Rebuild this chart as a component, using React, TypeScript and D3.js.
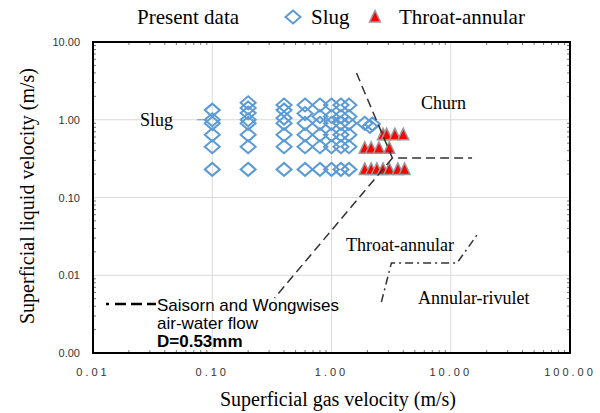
import React from "react";
import * as d3 from "d3";

// present data - slug (open diamonds), one column per gas velocity
const slugGas = [0.1, 0.2, 0.4, 0.6, 0.8, 1.0, 1.2, 1.4];
const slugLiq = [
  [1.33, 1.0, 0.9, 0.64, 0.45, 0.23],
  [1.65, 1.42, 1.22, 1.0, 0.9, 0.64, 0.45, 0.23],
  [1.55, 1.33, 1.05, 0.9, 0.64, 0.45, 0.23],
  [1.55, 1.2, 0.9, 0.64, 0.45, 0.23],
  [1.55, 1.1, 0.9, 0.64, 0.45, 0.23],
  [1.55, 1.1, 0.9, 0.64, 0.45, 0.23],
  [1.55, 1.1, 0.9, 0.64, 0.45, 0.23],
  [1.55, 1.1, 0.9, 0.64, 0.45, 0.23],
];
const slugExtraGas = [1.9, 2.1, 2.2];
const slugExtraLiq = [0.9, 0.82, 0.88];

// present data - throat-annular (red triangles)
const taGas = [2.7, 2.9, 3.4, 4.0, 1.9, 2.15, 2.5, 3.05, 1.9, 2.15, 2.4, 2.7, 3.05, 3.6, 4.1];
const taLiq = [0.64, 0.64, 0.64, 0.64, 0.43, 0.43, 0.43, 0.43, 0.23, 0.23, 0.23, 0.23, 0.23, 0.23, 0.23];

// Saisorn and Wongwises boundaries
const churnLineGas = [1.62, 3.24, 15.1];
const churnLineLiq = [3.99, 0.322, 0.322];
const slugLineGas = [3.24, 0.333];
const slugLineLiq = [0.322, 0.0051];
const rivuletLineGas = [2.62, 3.18, 11.3, 17.3];
const rivuletLineLiq = [0.00453, 0.0144, 0.0144, 0.036];

const xTicks = [0.01, 0.1, 1, 10, 100];
const yTicks = [0.001, 0.01, 0.1, 1, 10];

const W = 600;
const H = 413;
const L = 93, R = 570, T = 42, B = 353;
const serif = "'Liberation Serif', 'Times New Roman', serif";
const sans = "'Liberation Sans', Arial, sans-serif";
const blue = "#5b9bd5";

export default function App() {
  const x = d3.scaleLog().domain([0.01, 100]).range([L, R]);
  const y = d3.scaleLog().domain([0.001, 10]).range([B, T]);
  const line = d3
    .line<[number, number]>()
    .x((d) => x(d[0]))
    .y((d) => y(d[1]));

  const minorX: number[] = [];
  for (let e = -2; e < 2; e++) for (let k = 2; k < 10; k++) minorX.push(k * Math.pow(10, e));
  const minorY: number[] = [];
  for (let e = -3; e < 1; e++) for (let k = 2; k < 10; k++) minorY.push(k * Math.pow(10, e));

  const diamond = (cx: number, cy: number) =>
    `M${cx},${cy - 6.5}L${cx + 7.5},${cy}L${cx},${cy + 6.5}L${cx - 7.5},${cy}Z`;
  const tri = (cx: number, cy: number) =>
    `M${cx},${cy - 6.5}L${cx + 5.5},${cy + 5}L${cx - 5.5},${cy + 5}Z`;

  const slugPts: [number, number][] = [];
  slugGas.forEach((g, i) => slugLiq[i].forEach((l) => slugPts.push([g, l])));
  slugExtraGas.forEach((g, i) => slugPts.push([g, slugExtraLiq[i]]));

  return (
    <svg width={W} height={H} style={{ position: "absolute", left: 0, top: 0, background: "#fff" }}>
      {/* top legend */}
      <text x={137} y={24} fontFamily={serif} fontSize={21}>Present data</text>
      <path d={diamond(293, 17)} fill="none" stroke={blue} strokeWidth={2} />
      <text x={311} y={24} fontFamily={serif} fontSize={21}>Slug</text>
      <path d={tri(375, 17)} fill="#ff0000" stroke="#999" strokeWidth={1.5} />
      <text x={399} y={24} fontFamily={serif} fontSize={21}>Throat-annular</text>

      {/* grid */}
      {[0.1, 1, 10].map((v) => (
        <line key={"gx" + v} x1={x(v)} x2={x(v)} y1={T} y2={B} stroke="#d9d9d9" />
      ))}
      {[0.01, 0.1, 1].map((v) => (
        <line key={"gy" + v} x1={L} x2={R} y1={y(v)} y2={y(v)} stroke="#d9d9d9" />
      ))}

      {/* minor ticks, inward on all sides */}
      {minorX.map((v) => (
        <g key={"mx" + v} stroke="#555" strokeWidth={0.8}>
          <line x1={x(v)} x2={x(v)} y1={B} y2={B - 3} />
          <line x1={x(v)} x2={x(v)} y1={T} y2={T + 3} />
        </g>
      ))}
      {minorY.map((v) => (
        <g key={"my" + v} stroke="#555" strokeWidth={0.8}>
          <line x1={L} x2={L + 3} y1={y(v)} y2={y(v)} />
          <line x1={R} x2={R - 3} y1={y(v)} y2={y(v)} />
        </g>
      ))}

      {/* data */}
      {slugPts.map((p, i) => (
        <path key={"s" + i} d={diamond(x(p[0]), y(p[1]))} fill="none" stroke={blue} strokeWidth={2} />
      ))}
      {taGas.map((g, i) => (
        <path key={"t" + i} d={tri(x(g), y(taLiq[i]))} fill="#ff0000" stroke="#999" strokeWidth={1.5} />
      ))}

      {/* boundaries */}
      <path d={line(churnLineGas.map((g, i) => [g, churnLineLiq[i]]))!} fill="none" stroke="#333" strokeWidth={1.5} strokeDasharray="9,5" />
      <path d={line(slugLineGas.map((g, i) => [g, slugLineLiq[i]]))!} fill="none" stroke="#333" strokeWidth={1.5} strokeDasharray="9,5" />
      <path d={line(rivuletLineGas.map((g, i) => [g, rivuletLineLiq[i]]))!} fill="none" stroke="#333" strokeWidth={1.5} strokeDasharray="8,4,2,4" />
      <line x1={197} x2={207} y1={y(1)} y2={y(1)} stroke={blue} strokeWidth={1} />

      {/* regime labels */}
      <text x={140} y={126} fontFamily={serif} fontSize={18}>Slug</text>
      <text x={421} y={109} fontFamily={serif} fontSize={18}>Churn</text>
      <text x={346} y={251} fontFamily={serif} fontSize={18}>Throat-annular</text>
      <text x={418} y={304} fontFamily={serif} fontSize={18}>Annular-rivulet</text>

      {/* inner legend */}
      <line x1={106} x2={156} y1={304} y2={304} stroke="#000" strokeWidth={2.5} strokeDasharray="3,6,11,5,11,5,11" />
      <text x={157} y={311} fontFamily={sans} fontSize={17}>Saisorn and Wongwises</text>
      <text x={157} y={329} fontFamily={sans} fontSize={17}>air-water flow</text>
      <text x={157} y={347} fontFamily={sans} fontSize={17} fontWeight="bold">D=0.53mm</text>

      {/* frame */}
      <rect x={L} y={T} width={R - L} height={B - T} fill="none" stroke="#000" strokeWidth={2} />

      {/* tick labels */}
      {xTicks.map((v) => (
        <text key={"xt" + v} x={x(v)} y={376} textAnchor="middle" fontFamily={sans} fontSize={11} letterSpacing={3} fill="#333">
          {v.toFixed(2)}
        </text>
      ))}
      {yTicks.map((v) => (
        <text key={"yt" + v} x={80} y={y(v) + 4} textAnchor="end" fontFamily={sans} fontSize={11} fill="#333">
          {v.toFixed(2)}
        </text>
      ))}

      {/* axis titles */}
      <text x={338} y={406} textAnchor="middle" fontFamily={serif} fontSize={20}>Superficial gas velocity (m/s)</text>
      <text transform={`translate(34,196) rotate(-90)`} textAnchor="middle" fontFamily={serif} fontSize={20}>
        Superficial liquid velocity (m/s)
      </text>
    </svg>
  );
}
